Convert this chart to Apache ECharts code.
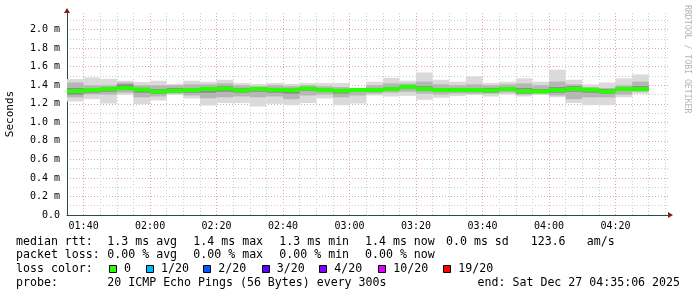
<!DOCTYPE html>
<html>
<head>
<meta charset="utf-8">
<script src="https://cdn.jsdelivr.net/npm/echarts@6/dist/echarts.min.js"></script>
<style>
html,body{margin:0;padding:0;background:#fff;}
#chart{width:697px;height:297px;}
</style>
</head>
<body>
<div id="chart"></div>
<script>
// ---- data (values in ms) ----
const stepStarts = ['01:35','01:40','01:45','01:50','01:55','02:00','02:05','02:10','02:15','02:20','02:25','02:30','02:35','02:40','02:45','02:50','02:55','03:00','03:05','03:10','03:15','03:20','03:25','03:30','03:35','03:40','03:45','03:50','03:55','04:00','04:05','04:10','04:15','04:20','04:25'];
const stepMinutes = 5;
const pingMax = [1.467,1.484,1.470,1.449,1.435,1.449,1.413,1.449,1.438,1.459,1.424,1.413,1.424,1.416,1.424,1.424,1.424,1.373,1.438,1.481,1.449,1.538,1.459,1.438,1.495,1.424,1.438,1.474,1.438,1.568,1.459,1.409,1.430,1.474,1.517];
const pingMin = [1.225,1.251,1.203,1.297,1.197,1.236,1.297,1.257,1.182,1.208,1.208,1.171,1.200,1.186,1.208,1.257,1.186,1.203,1.290,1.279,1.286,1.243,1.265,1.283,1.294,1.279,1.301,1.279,1.294,1.272,1.208,1.186,1.186,1.272,1.308];
const p90 = [1.43,1.40,1.40,1.43,1.40,1.40,1.40,1.41,1.41,1.42,1.40,1.39,1.40,1.39,1.40,1.39,1.38,1.37,1.40,1.42,1.42,1.44,1.41,1.40,1.41,1.40,1.41,1.42,1.40,1.44,1.41,1.38,1.37,1.40,1.44];
const p10 = [1.27,1.30,1.30,1.32,1.27,1.28,1.31,1.29,1.26,1.27,1.28,1.27,1.28,1.25,1.29,1.30,1.27,1.29,1.31,1.32,1.33,1.31,1.30,1.31,1.31,1.31,1.32,1.30,1.31,1.29,1.25,1.27,1.27,1.30,1.33];
const p75 = [1.37,1.37,1.38,1.41,1.37,1.36,1.37,1.37,1.38,1.39,1.37,1.38,1.37,1.37,1.38,1.37,1.36,1.36,1.37,1.38,1.40,1.39,1.37,1.37,1.37,1.37,1.38,1.37,1.36,1.38,1.39,1.37,1.36,1.38,1.39];
const p25 = [1.30,1.32,1.33,1.35,1.32,1.31,1.32,1.32,1.32,1.33,1.32,1.33,1.32,1.31,1.34,1.33,1.31,1.33,1.33,1.34,1.36,1.34,1.33,1.33,1.33,1.32,1.34,1.31,1.32,1.32,1.33,1.32,1.31,1.34,1.34];
const medianRtt = [1.337,1.349,1.359,1.368,1.354,1.333,1.341,1.349,1.360,1.365,1.346,1.360,1.351,1.348,1.365,1.348,1.341,1.349,1.348,1.360,1.381,1.362,1.349,1.348,1.348,1.344,1.360,1.338,1.333,1.348,1.360,1.351,1.333,1.360,1.359];

const xTickLabels = ['01:40','02:00','02:20','02:40','03:00','03:20','03:40','04:00','04:20'];
const yTickLabels = ['0.0','0.2 m','0.4 m','0.6 m','0.8 m','1.0 m','1.2 m','1.4 m','1.6 m','1.8 m','2.0 m'];
const xStart = '01:35', xEnd = '04:35:48';
const yMax = 2.18;

const legendLines = [
  ['median rtt:', '1.3 ms avg', '1.4 ms max', '1.3 ms min', '1.4 ms now', '0.0 ms sd', '123.6', 'am/s'],
  ['packet loss:', '0.00 % avg', '0.00 % max', '0.00 % min', '0.00 % now'],
  ['probe:', '20 ICMP Echo Pings (56 Bytes) every 300s']
];
const lossLabels = ['0','1/20','2/20','3/20','4/20','10/20','19/20'];
const lossColors = ['#26ff00','#00b8ff','#0059ff','#5e00ff','#7e00ff','#dd00ff','#ff0000'];
const endText = 'end: Sat Dec 27 04:35:06 2025';

// ---- helpers ----
function toMin(s){ const p = s.split(':').map(Number); return p[0]*60 + p[1] + (p[2]||0)/60; }
const xTickMap = {};
xTickLabels.forEach(l => { xTickMap[Math.round(toMin(l))] = l; });

function bandData(lo, hi){
  return stepStarts.map((s,i) => { const a = toMin(s); return [a, a+stepMinutes, lo[i], hi[i]]; });
}
function bandSeries(name, lo, hi, color){
  return {
    type:'custom', name, xAxisIndex:0, yAxisIndex:0, silent:true,
    data: bandData(lo, hi),
    encode:{x:[0,1], y:[2,3]},
    renderItem(params, api){
      const a = api.coord([api.value(0), api.value(3)]);
      const b = api.coord([api.value(1), api.value(2)]);
      return {type:'rect', shape:{x:a[0], y:a[1], width:b[0]-a[0], height:b[1]-a[1]}, style:{fill:color}};
    }
  };
}

const mono = 'DejaVu Sans Mono';
const chart = echarts.init(document.getElementById('chart'), null, {renderer:'canvas'});

const gridLeft = 67, gridTop = 13, gridRight = 697-668, gridBottom = 297-215;
const minorGrid = '#cdcdcd', majorGrid = '#e6a4a4';

const option = {
  animation:false,
  backgroundColor:'#ffffff',
  grid:{left:gridLeft, top:gridTop, right:gridRight, bottom:gridBottom, containLabel:false, outerBoundsMode:'none'},
  xAxis:[{
    type:'value', min:toMin(xStart), max:toMin(xEnd), interval:5,
    axisLine:{show:true, lineStyle:{color:'#2c4d43', width:1}},
    axisTick:{show:false},
    axisLabel:{
      show:true, margin:6, color:'#000', fontFamily:mono, fontSize:10,
      showMinLabel:true, showMaxLabel:false,
      formatter(v){ const k = Math.round(v); return (Math.abs(v-k)<1e-6 && xTickMap[k]) ? xTickMap[k] : ''; }
    },
    splitLine:{show:true, showMinLine:false, showMaxLine:false,
      lineStyle:{type:[1,2], width:1, color:[majorGrid, minorGrid, minorGrid, minorGrid]}}
  }],
  yAxis:[{
    type:'value', min:0, max:yMax, interval:0.1,
    name:'Seconds', nameLocation:'middle', nameRotate:90, nameGap:51,
    nameTextStyle:{fontFamily:mono, fontSize:11, color:'#000'},
    axisLine:{show:true, lineStyle:{color:'#2c4d43', width:1}},
    axisTick:{show:false},
    axisLabel:{
      show:true, margin:7, color:'#000', fontFamily:mono, fontSize:10, showMaxLabel:false,
      formatter(v){ const k = Math.round(v*10); if (Math.abs(v*10-k)>1e-6 || k%2) return ''; return yTickLabels[k/2] || ''; }
    },
    splitLine:{show:true, showMinLine:false, showMaxLine:false,
      lineStyle:{type:[1,2], width:1, color:[minorGrid, majorGrid]}}
  }],
  series:[
    bandSeries('outer', pingMin, pingMax, '#dadada'),
    bandSeries('mid', p10, p90, '#b6b6b6'),
    bandSeries('inner', p25, p75, '#8a8a8a'),
    {
      type:'custom', name:'median', silent:true,
      data: stepStarts.map((s,i) => { const a = toMin(s); return [a, a+stepMinutes, medianRtt[i]]; }),
      encode:{x:[0,1], y:2},
      renderItem(params, api){
        const a = api.coord([api.value(0), api.value(2)]);
        const b = api.coord([api.value(1), api.value(2)]);
        return {type:'rect', shape:{x:a[0], y:a[1]-2, width:b[0]-a[0], height:4}, style:{fill:'#26ff00'}};
      }
    }
  ]
};
chart.setOption(option);

// decorations: arrows, legend text, watermark
const o = chart.convertToPixel({gridIndex:0}, [toMin(xStart), 0]);
const t = chart.convertToPixel({gridIndex:0}, [toMin(xEnd), yMax]);
const g = [];
g.push({type:'polygon', shape:{points:[[o[0]-3, t[1]], [o[0]+3, t[1]], [o[0], t[1]-5]]}, style:{fill:'#7f1f1f'}});
g.push({type:'polygon', shape:{points:[[t[0], o[1]-3], [t[0], o[1]+3], [t[0]+5, o[1]]]}, style:{fill:'#7f1f1f'}});

const colX = [16, 107.3, 193.3, 279.3, 365, 446, 530.7, 586.7];
const lineY = [241.7, 255, 283.3];
const legendFont = '11.6px "DejaVu Sans Mono"';
legendLines.forEach((ln, r) => {
  ln.forEach((txt, c) => {
    g.push({type:'text', x:colX[c], y:lineY[r], style:{text:txt, fill:'#000', font:legendFont, textVerticalAlign:'middle'}});
  });
});
g.push({type:'text', x:16, y:269.3, style:{text:'loss color:', fill:'#000', font:legendFont, textVerticalAlign:'middle'}});
const boxX = [109, 146, 203.3, 261.7, 319.3, 378.3, 443.3];
lossLabels.forEach((lab, i) => {
  g.push({type:'rect', shape:{x:Math.round(boxX[i])+0.5, y:265.5, width:7, height:7}, style:{fill:lossColors[i], stroke:'#000', lineWidth:1}});
  g.push({type:'text', x:boxX[i]+15, y:269.3, style:{text:lab, fill:'#000', font:legendFont, textVerticalAlign:'middle'}});
});
g.push({type:'text', x:680, y:283.3, style:{text:endText, fill:'#000', font:legendFont, textVerticalAlign:'middle', textAlign:'right'}});
g.push({type:'text', x:687, y:5, rotation:-Math.PI/2, style:{text:'RRDTOOL / TOBI OETIKER', fill:'#b4b4b4', font:'8.2px "DejaVu Sans Mono"', textVerticalAlign:'middle', textAlign:'left'}});
chart.setOption({graphic:{elements:g}});
</script>
</body>
</html>
